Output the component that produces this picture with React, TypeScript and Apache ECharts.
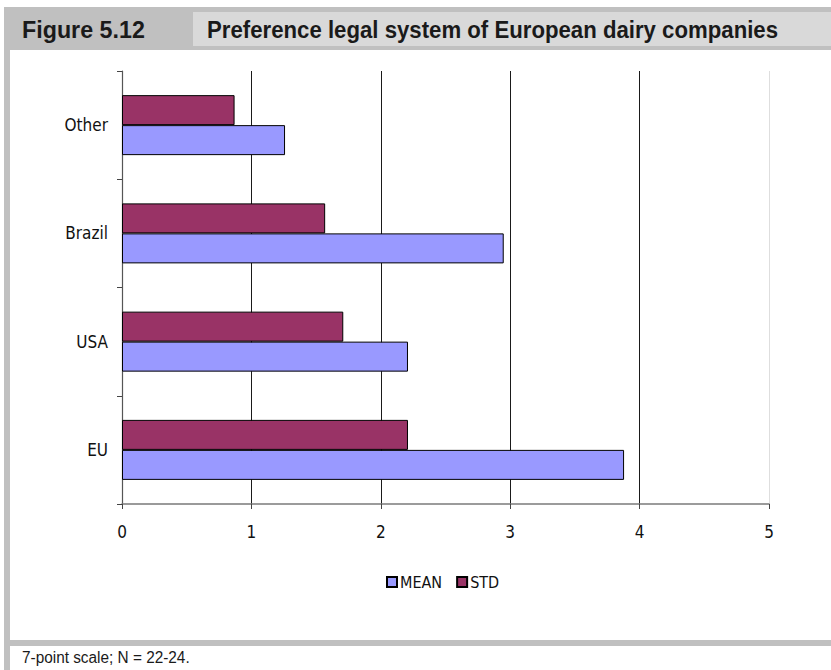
import React, { useEffect, useRef } from "react";
import * as echarts from "echarts";

// Regions, bottom to top as on the category axis
const regions = ["EU", "USA", "Brazil", "Other"];
const meanValues = [3.88, 2.21, 2.95, 1.26];
const stdValues = [2.21, 1.71, 1.57, 0.87];
const seriesNames = ["MEAN", "STD"];

const figureLabel = "Figure 5.12";
const figureTitle = "Preference legal system of European dairy companies";
const footnote = "7-point scale; N = 22-24.";

const FONT = '"DejaVu Sans Condensed", "Liberation Sans Narrow", "Liberation Sans", Arial, sans-serif';
const HEAD_FONT = '"Liberation Sans", Arial, sans-serif';

export default function App() {
  const ref = useRef<HTMLDivElement>(null);

  useEffect(() => {
    if (!ref.current) return;
    const chart = echarts.init(ref.current, undefined, { renderer: "svg" });
    chart.setOption({
      animation: false,
      backgroundColor: "#ffffff",
      textStyle: { fontFamily: FONT },
      graphic: [
        { type: "rect", z: -10, shape: { x: 4, y: 7, width: 827, height: 43 }, style: { fill: "#c0c0c0" } },
        { type: "rect", z: -10, shape: { x: 4, y: 50, width: 6, height: 620 }, style: { fill: "#c0c0c0" } },
        { type: "rect", z: -9, shape: { x: 193, y: 12, width: 638, height: 34 }, style: { fill: "#d9d9d9" } },
        { type: "rect", z: -10, shape: { x: 4, y: 640, width: 827, height: 6 }, style: { fill: "#c0c0c0" } },
        {
          type: "text", x: 22, y: 30, scaleX: 0.97,
          style: { text: figureLabel, fill: "#1a1a1a", font: `bold 24px ${HEAD_FONT}`, verticalAlign: "middle" },
        },
        {
          type: "text", x: 207, y: 30, scaleX: 0.925,
          style: { text: figureTitle, fill: "#1a1a1a", font: `bold 24px ${HEAD_FONT}`, verticalAlign: "middle" },
        },
        {
          type: "text", x: 22, y: 657, scaleX: 0.96,
          style: { text: footnote, fill: "#1a1a1a", font: `16px ${HEAD_FONT}`, verticalAlign: "middle" },
        },
      ],
      legend: {
        data: seriesNames,
        left: 381,
        top: 569,
        icon: "rect",
        itemWidth: 10,
        itemHeight: 10,
        itemGap: 14,
        textStyle: { fontSize: 16, color: "#111", fontFamily: FONT, padding: [0, 0, 0, -2] },
      },
      grid: { left: 122, top: 71, width: 647, height: 433 },
      xAxis: {
        type: "value",
        min: 0,
        max: 5,
        interval: 1,
        axisLine: { show: true, lineStyle: { color: "#7a7a7a", width: 1.5 } },
        axisTick: { show: true, length: 5, lineStyle: { color: "#444" } },
        axisLabel: { fontSize: 17, color: "#111", margin: 19, fontFamily: FONT },
        splitLine: {
          show: true,
          lineStyle: { color: ["#555", "#1a1a1a", "#1a1a1a", "#1a1a1a", "#1a1a1a", "#dedede"], width: 1 },
        },
      },
      yAxis: {
        type: "category",
        data: regions,
        axisLine: { show: true, lineStyle: { color: "#555", width: 1.2 } },
        axisTick: { show: true, length: 5, alignWithLabel: false, lineStyle: { color: "#444" } },
        axisLabel: { fontSize: 17, color: "#111", margin: 14, fontFamily: FONT },
        splitLine: { show: false },
      },
      series: [
        {
          // first series sits at the top of each category band
          name: seriesNames[1],
          type: "bar",
          data: stdValues,
          barWidth: 30,
          barGap: "0%",
          itemStyle: { color: "#993366", borderColor: "#000", borderWidth: 1 },
        },
        {
          name: seriesNames[0],
          type: "bar",
          data: meanValues,
          barWidth: 30,
          barGap: "0%",
          itemStyle: { color: "#9999ff", borderColor: "#000", borderWidth: 1 },
        },
      ],
    });
    return () => chart.dispose();
  }, []);

  return (
    <div
      ref={ref}
      style={{ position: "fixed", left: 0, top: 0, width: 831, height: 670, background: "#fff" }}
    />
  );
}
